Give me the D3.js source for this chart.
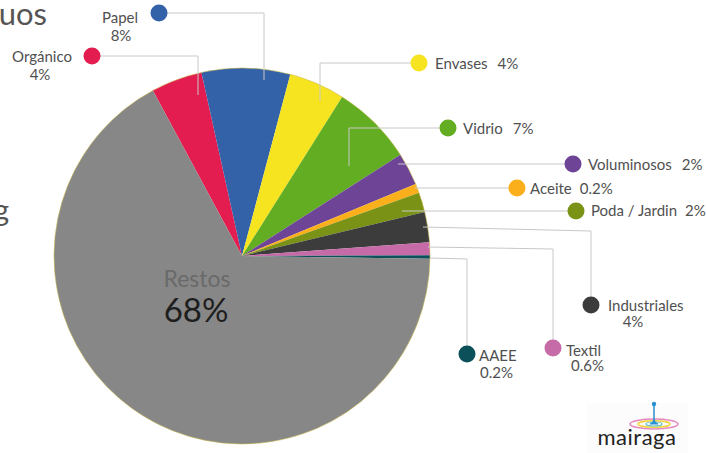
<!DOCTYPE html>
<html>
<head>
<meta charset="utf-8">
<script src="https://d3js.org/d3.v7.min.js"></script>
<style>
  body { margin: 0; background: #fff; }
  text { font-family: Lato, "Open Sans", sans-serif; }
  .lbl { fill: #505050; font-size: 15px; }
  .leader { fill: none; stroke: #c8c8c8; stroke-width: 1; }
</style>
</head>
<body>
<svg id="chart" width="706" height="453"></svg>
<script>
// slice order clockwise, starting at the Orgánico / Restos boundary
const categories = ["Orgánico", "Papel", "Envases", "Vidrio", "Voluminosos", "Aceite",
                    "Poda / Jardin", "Industriales", "Textil", "AAEE", "Restos"];
// slice sizes (percent of the circle)
const shares = [4.4, 7.6, 4.8, 7.0, 2.8, 0.8, 1.7, 2.6, 1.1, 0.3, 66.9];
// the printed labels
const pctLabels = ["4%", "8%", "4%", "7%", "2%", "0.2%", "2%", "4%", "0.6%", "0.2%", "68%"];
const colors = ["#e31d50", "#3462a8", "#f7e421", "#62ad22", "#6e4496", "#fbb01b",
                "#7a9317", "#3c3c3c", "#c76aa8", "#0c515a", "#878787"];

const svg = d3.select("#chart");
const cx = 242, cy = 256, radius = 188;
const startDeg = -28.3;

const pie = d3.pie().sort(null).value(d => d)
  .startAngle(startDeg * Math.PI / 180)
  .endAngle(startDeg * Math.PI / 180 + 2 * Math.PI);
const arc = d3.arc().innerRadius(0).outerRadius(radius);

// cut-off title text on the left
svg.append("text").attr("x", 47).attr("y", 25).attr("text-anchor", "end")
  .attr("font-size", 31).attr("fill", "#555").text("Residuos");
svg.append("text").attr("x", 9).attr("y", 221).attr("text-anchor", "end")
  .attr("font-size", 30).attr("fill", "#555").text("kg");

const pieG = svg.append("g").attr("transform", `translate(${cx},${cy})`);
pieG.selectAll("path")
  .data(pie(shares))
  .join("path")
  .attr("d", arc)
  .attr("fill", (d, i) => colors[i]);
pieG.append("circle").attr("r", radius).attr("fill", "none")
  .attr("stroke", "#c9b84a").attr("stroke-width", 0.8).attr("opacity", 0.7);

// Restos label inside the slice
pieG.append("text").attr("x", 197 - cx).attr("y", 287 - cy).attr("text-anchor", "middle")
  .attr("font-size", 23).attr("fill", "#6a6a6a").text(categories[10]);
pieG.append("text").attr("x", 196 - cx).attr("y", 322 - cy).attr("text-anchor", "middle")
  .attr("font-size", 33).attr("fill", "#1e1e1e").text(pctLabels[10]);

// callout layout: leader polyline (dot first), label placement
const callouts = [
  {pts: [[92,56],[198,56],[198,95]],     tx: 42,  ty: 62,  px: 40,  py: 80,  mode: "stack-mid"},
  {pts: [[159,13],[264,13],[264,80]],    tx: 120, ty: 23,  px: 121, py: 41,  mode: "stack-mid"},
  {pts: [[419,63],[320,63],[320,101]],   tx: 435, ty: 69,  gap: 10, mode: "inline"},
  {pts: [[448,128],[349,128],[349,166]], tx: 463, ty: 134, gap: 10, mode: "inline"},
  {pts: [[573,164],[398,164]],           tx: 588, ty: 170, gap: 10, mode: "inline"},
  {pts: [[517,188],[415,188]],           tx: 530, ty: 194, gap: 8,  mode: "inline"},
  {pts: [[576,211],[402,211]],           tx: 591, ty: 216, gap: 8,  mode: "inline"},
  {pts: [[591,305],[591,231],[423,227]], tx: 608, ty: 311, px: 633, py: 327, mode: "stack-pm"},
  {pts: [[553,348],[553,249],[428,247]], tx: 566, ty: 356, px: 571, py: 371, mode: "stack"},
  {pts: [[467,354],[467,259],[430,258]], tx: 479, ty: 361, px: 480, py: 378, mode: "stack"}
];

const line = d3.line();
const calloutG = svg.append("g");
callouts.forEach((c, i) => {
  calloutG.append("path").attr("class", "leader").attr("d", line(c.pts));
  calloutG.append("circle").attr("cx", c.pts[0][0]).attr("cy", c.pts[0][1])
    .attr("r", 8.5).attr("fill", colors[i]);
  if (c.mode === "inline") {
    const t = calloutG.append("text").attr("class", "lbl").attr("x", c.tx).attr("y", c.ty);
    t.append("tspan").text(categories[i]);
    t.append("tspan").attr("dx", c.gap).text(pctLabels[i]);
  } else {
    const anchor = c.mode === "stack" ? "start" : "middle";
    calloutG.append("text").attr("class", "lbl").attr("x", c.tx).attr("y", c.ty)
      .attr("text-anchor", c.mode === "stack-mid" ? "middle" : "start").text(categories[i]);
    calloutG.append("text").attr("class", "lbl").attr("x", c.px).attr("y", c.py)
      .attr("text-anchor", anchor).text(pctLabels[i]);
  }
});

// mairaga logo
const logo = svg.append("g");
logo.append("rect").attr("x", 587).attr("y", 403).attr("width", 101).attr("height", 50).attr("fill", "#fcfcfc");
logo.append("ellipse").attr("cx", 654).attr("cy", 424).attr("rx", 24).attr("ry", 5)
  .attr("fill", "none").attr("stroke", "#e58ac0").attr("stroke-width", 1.6);
logo.append("ellipse").attr("cx", 654).attr("cy", 424).attr("rx", 16).attr("ry", 3.2)
  .attr("fill", "none").attr("stroke", "#f2d23c").attr("stroke-width", 1.4);
logo.append("ellipse").attr("cx", 654).attr("cy", 424).attr("rx", 8).attr("ry", 2)
  .attr("fill", "none").attr("stroke", "#5cc3c8").attr("stroke-width", 1.2);
logo.append("path").attr("d", "M654,405 L654,418 Q654,423 658,424 L650,424 Q654,423 654,418 Z")
  .attr("fill", "#2a8fd0").attr("stroke", "#2a8fd0").attr("stroke-width", 1);
logo.append("circle").attr("cx", 654).attr("cy", 404).attr("r", 2.2).attr("fill", "#2a8fd0");
logo.append("text").attr("x", 637).attr("y", 445).attr("text-anchor", "middle")
  .attr("font-size", 22).attr("fill", "#222").attr("letter-spacing", 0.5).text("mairaga");
</script>
</body>
</html>
